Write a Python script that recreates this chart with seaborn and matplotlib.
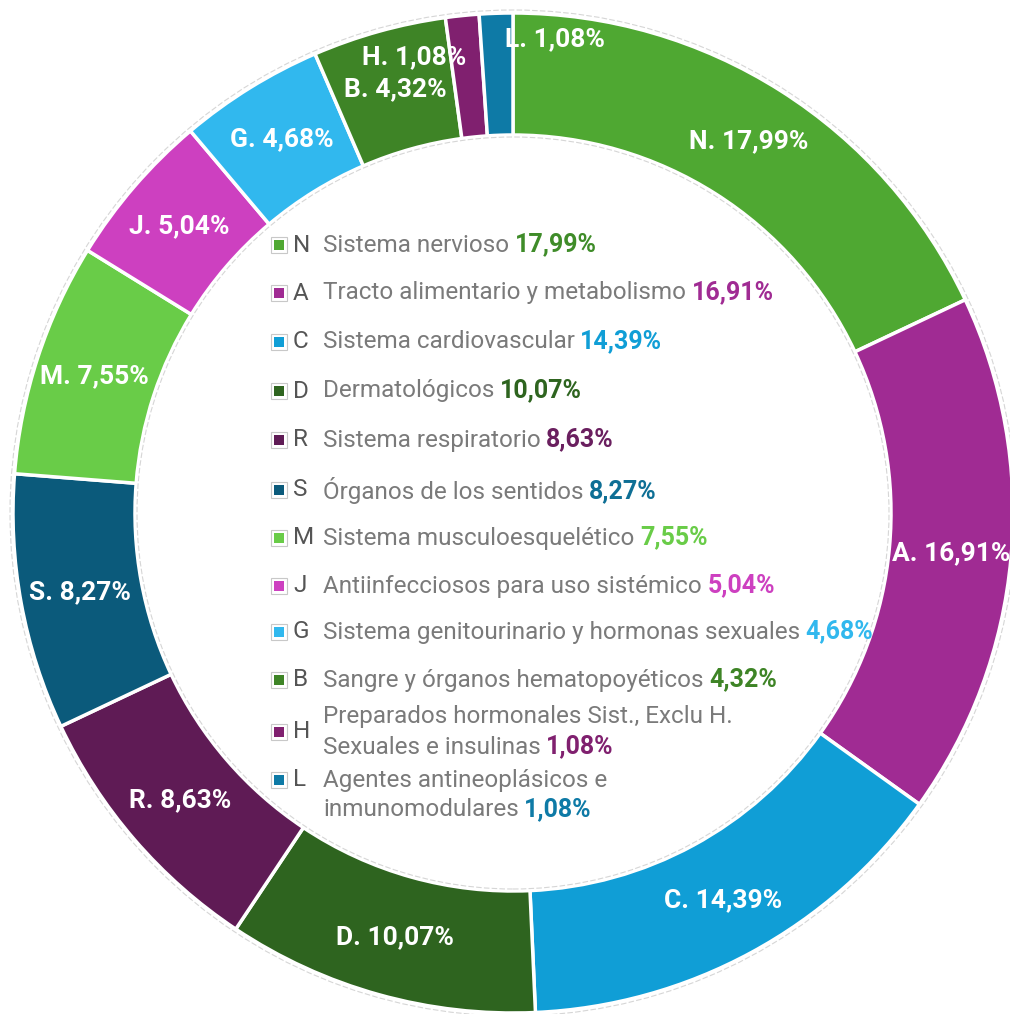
import matplotlib
matplotlib.use("Agg")
import matplotlib.pyplot as plt
import seaborn as sns

sns.set_theme(style="white")
plt.rcParams['font.family'] = ['Roboto', 'DejaVu Sans']

# ATC groups, clockwise from the top
codes = ['N', 'A', 'C', 'D', 'R', 'S', 'M', 'J', 'G', 'B', 'H', 'L']
names = ['Sistema nervioso',
         'Tracto alimentario y metabolismo',
         'Sistema cardiovascular',
         'Dermatológicos',
         'Sistema respiratorio',
         'Órganos de los sentidos',
         'Sistema musculoesquelético',
         'Antiinfecciosos para uso sistémico',
         'Sistema genitourinario y hormonas sexuales',
         'Sangre y órganos hematopoyéticos',
         'Preparados hormonales Sist., Exclu H.\nSexuales e insulinas',
         'Agentes antineoplásicos e\ninmunomodulares']
shares = [17.99, 16.91, 14.39, 10.07, 8.63, 8.27, 7.55, 5.04, 4.68, 4.32, 1.08, 1.08]
colors = ['#4fa832', '#a02b93', '#109ed6', '#2e641f', '#5f1b55', '#0b5a7b',
          '#69cc48', '#cd40c0', '#31b8ee', '#3e8426', '#80206f', '#0e7aa6']
pct_colors = ['#3f8c29', '#a02b93', '#109ed6', '#2e641f', '#6a1f5f', '#0e6f95',
              '#69cc48', '#cd40c0', '#31b8ee', '#3e8426', '#80206f', '#0e7aa6']


def fmt(v):
    return f"{v:.2f}".replace('.', ',') + '%'


def px(x, y):
    # picture pixels -> data units (centre of the ring at 513, 513)
    return x - 513, 513 - y


fig = plt.figure(figsize=(10.1, 10.14), dpi=100)
ax = fig.add_axes([0, 0, 1, 1])

wedges, texts = ax.pie(
    shares,
    labels=[f"{c}. {fmt(v)}" for c, v in zip(codes, shares)],
    colors=colors, startangle=90, counterclock=False,
    radius=500, labeldistance=0.88,
    wedgeprops=dict(width=122, edgecolor='white', linewidth=2.5),
    textprops=dict(color='white', fontsize=19, fontweight='bold'))

for t in texts:
    t.set_ha('center')
    t.set_va('center')
    t.set_zorder(5)

# the two thin slices at the top have their labels pushed aside
nudge = {'H': (-54, 18), 'L': (57, 34)}
for c, t in zip(codes, texts):
    if c in nudge:
        x, y = t.get_position()
        t.set_position((x + nudge[c][0], y + nudge[c][1]))

# faint outline around the ring
for r in (503, 376):
    ax.add_patch(plt.Circle((0, 0), r, fill=False, ec='#d6d6d6', lw=0.8,
                            ls=(0, (5, 2))))

# legend inside the hole
row_y = [245, 293, 342, 391, 440, 490, 538, 586, 632, 680, 717, 780]
line_gap = 30
fs = 17.5
for c, name, v, col, pcol, y in zip(codes, names, shares, colors, pct_colors, row_y):
    lines = name.split('\n')
    sq_y = y + (line_gap / 2 if c == 'H' else 0)
    ax.plot(*px(279, sq_y), marker='s', ms=11, mfc='white', mec='#c8c8c8', mew=0.8)
    ax.plot(*px(279, sq_y), marker='s', ms=7, mfc=col, mec=col, mew=0)
    ax.text(*px(293, sq_y), c, fontsize=fs, color='#555555', ha='left', va='center')
    last = None
    for i, ln in enumerate(lines):
        last = ax.text(*px(323, y + i * line_gap), ln, fontsize=fs, color='#7a7a7a',
                       ha='left', va='center')
    ax.annotate(fmt(v), xy=(1, 0), xycoords=last, xytext=(4, 0),
                textcoords='offset points', fontsize=fs + 0.5, fontweight='bold',
                color=pcol, ha='left', va='bottom')

ax.set_xlim(-513, 497)
ax.set_ylim(-501, 513)
ax.set_aspect('equal')
ax.axis('off')

fig.savefig('out.png', dpi=100)
